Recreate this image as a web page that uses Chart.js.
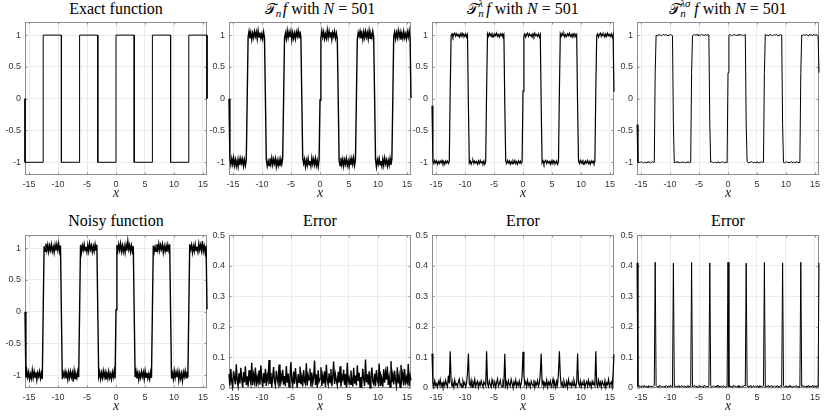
<!DOCTYPE html>
<html><head><meta charset="utf-8">
<script src="https://cdn.jsdelivr.net/npm/chart.js@4.4.1/dist/chart.umd.min.js"></script>
<style>
html,body{margin:0;padding:0;background:#fff;}
body{width:830px;height:417px;position:relative;overflow:hidden;}
canvas{position:absolute;}
.ttl{position:absolute;width:240px;text-align:center;font-family:"Liberation Serif","Times New Roman",serif;font-size:16px;line-height:16px;color:#000;white-space:nowrap;}
.cal{font-family:"DejaVu Sans","DejaVu Serif","Noto Sans",serif;font-size:15px;}
.ss{position:relative;display:inline-block;height:0;}
.ss .sp{position:absolute;left:0;bottom:5px;font-size:11px;line-height:11px;font-style:italic;}
.ss .sb{position:absolute;left:0;top:-6px;font-size:11px;line-height:11px;font-style:italic;}
</style></head><body>

<div class="ttl" style="left:-4px;top:1px">Exact function</div>
<div class="ttl" style="left:200px;top:1px"><span class="cal">𝒯</span><span class="ss" style="width:7px"><span class="sb">n</span></span><i>f</i> with <i>N</i> = 501</div>
<div class="ttl" style="left:403px;top:1px"><span class="cal">𝒯</span><span class="ss" style="width:8px"><span class="sp">λ</span><span class="sb">n</span></span><i>f</i> with <i>N</i> = 501</div>
<div class="ttl" style="left:608px;top:1px"><span class="cal">𝒯</span><span class="ss" style="width:14px"><span class="sp">λσ</span><span class="sb">n</span></span><i>f</i> with <i>N</i> = 501</div>
<div class="ttl" style="left:-4px;top:213px">Noisy function</div>
<div class="ttl" style="left:200px;top:213px">Error</div>
<div class="ttl" style="left:403px;top:213px">Error</div>
<div class="ttl" style="left:608px;top:213px">Error</div>

<canvas id="c0" width="215" height="194" style="left:0px;top:13px"></canvas>
<canvas id="c1" width="215" height="194" style="left:204px;top:13px"></canvas>
<canvas id="c2" width="215" height="194" style="left:407px;top:13px"></canvas>
<canvas id="c3" width="215" height="194" style="left:612px;top:13px"></canvas>
<canvas id="c4" width="215" height="194" style="left:0px;top:226px"></canvas>
<canvas id="c5" width="215" height="194" style="left:204px;top:226px"></canvas>
<canvas id="c6" width="215" height="194" style="left:407px;top:226px"></canvas>
<canvas id="c7" width="215" height="194" style="left:612px;top:226px"></canvas>

<script>
// ---------- axis ticks ----------
const xTickValues = [-15, -10, -5, 0, 5, 10, 15];
const xTickLabels = ['-15', '-10', '-5', '0', '5', '10', '15'];
const yTickValuesFunc = [-1, -0.5, 0, 0.5, 1];
const yTickLabelsFunc = ['-1', '-0.5', '0', '0.5', '1'];
const yTickValuesErr = [0, 0.1, 0.2, 0.3, 0.4, 0.5];
const yTickLabelsErr = ['0', '0.1', '0.2', '0.3', '0.4', '0.5'];

// ---------- sampling grid: 201 points on [-5π, 5π] ----------
const xMin = -15.708, xMax = 15.708, nSamples = 201;

// ---------- exact function (corner points) ----------
const exactX = [-15.708, -15.708, -12.566, -12.566, -9.425, -9.425, -6.283, -6.283, -3.142, -3.142, 0, 0,
                3.142, 3.142, 6.283, 6.283, 9.425, 9.425, 12.566, 12.566, 15.708, 15.708];
const exactY = [0, -1, -1, 1, 1, -1, -1, 1, 1, -1, -1, 1, 1, -1, -1, 1, 1, -1, -1, 1, 1, 0];

// ---------- noisy function (hundredths) ----------
const noisyF = [0,
 -104,-93,-103,-95,-106,-98,-105,-92,-104,-94,-103,-95,-107,-96,-102,-94,-105,-97,-106, 2,
 103,95,107,96,105,94,104,97,106,95,102,93,105,96,106,97,107,95,104, -3,
 -106,-96,-102,-94,-105,-97,-107,-95,-104,-94,-103,-96,-110,-93,-105,-98,-104,-94,-103, 1,
 105,93,104,97,106,96,102,94,105,95,107,98,104,94,103,95,106,96,105, -2,
 -102,-95,-106,-96,-104,-93,-103,-95,-107,-97,-105,-94,-104,-98,-106,-95,-103,-93,-105, 3,
 105,96,106,97,107,95,104,94,103,93,105,96,111,98,105,94,104,95,103, -1,
 -103,-94,-105,-96,-107,-97,-104,-94,-102,-95,-106,-93,-103,-96,-105,-98,-106,-95,-104, 2,
 104,94,102,95,106,97,107,96,105,98,106,93,103,95,104,94,105,97,106, -2,
 -105,-97,-106,-93,-104,-95,-103,-94,-108,-96,-105,-97,-109,-95,-102,-93,-104,-94,-103, 1,
 106,98,105,93,103,95,106,96,102,94,107,97,105,96,111,95,103,93,104, 4];

// ---------- T_n f (hundredths) ----------
const tnF = [0,
 -95,-104,-94,-103,-93,-105,-96,-106,-97,-107,-95,-104,-94,-102,-95,-106,-96,-105,-97, -1,
 97,106,95,104,93,103,96,106,98,105,94,107,97,104,95,102,94,105,96, 2,
 -96,-106,-98,-105,-94,-103,-93,-104,-95,-102,-94,-107,-97,-105,-96,-106,-95,-103,-94, -3,
 95,103,94,107,96,105,97,106,92,104,95,103,94,105,98,107,96,106,97, 1,
 -94,-102,-95,-107,-97,-105,-94,-104,-98,-106,-93,-103,-95,-104,-94,-105,-97,-107,-96, -2,
 96,107,97,105,94,102,95,108,96,106,97,105,93,104,98,106,95,103,94, 2,
 -97,-105,-93,-104,-95,-106,-96,-103,-94,-105,-98,-107,-95,-104,-94,-103,-93,-105,-96, -1,
 94,104,98,106,95,103,93,105,96,106,97,104,94,107,95,102,96,106,97, 3,
 -95,-107,-96,-103,-94,-104,-98,-106,-95,-105,-93,-102,-96,-106,-97,-105,-94,-104,-95, -2,
 98,105,94,104,96,107,97,105,93,103,95,106,96,102,94,105,97,107,95, 1];

// ---------- T_n^λ f (hundredths) ----------
const tnLambdaF = [-11,
 -98,-102,-97,-101,-98,-103,-99,-102,-98,-101,-97,-102,-99,-103,-98,-101,-98,-102,-99, 12,
 99,102,97,101,103,98,102,99,101,97,102,98,103,99,101,98,102,97,101, -11,
 -101,-98,-103,-99,-97,-102,-98,-101,-99,-103,-98,-102,-97,-101,-99,-102,-98,-103,-99, 12,
 102,98,103,99,102,97,101,98,102,99,103,98,101,97,102,99,102,98,101, -11,
 -98,-102,-97,-101,-98,-103,-99,-102,-98,-101,-97,-102,-99,-103,-98,-101,-98,-102,-99, 12,
 99,102,97,101,103,98,102,99,101,97,102,98,103,99,101,98,102,97,101, -11,
 -101,-98,-103,-99,-97,-102,-98,-101,-99,-103,-98,-102,-97,-101,-99,-102,-98,-103,-99, 12,
 102,98,103,99,102,97,101,98,102,99,103,98,101,97,102,99,102,98,101, -11,
 -98,-102,-97,-101,-98,-103,-99,-102,-98,-101,-97,-102,-99,-103,-98,-101,-98,-102,-99, 12,
 99,102,97,101,103,98,102,99,101,97,102,98,103,99,101,98,102,97,101, 11];

// ---------- T_n^λσ f (hundredths) ----------
const tnLambdaSigmaF = [-41,
 -100,-101,-100,-100,-99,-100,-101,-100,-100,-101,-100,-99,-100,-100,-101,-100,-99,-100,-100, 41,
 100,99,100,101,100,100,99,100,101,100,100,101,100,99,100,100,101,100,99, -41,
 -101,-100,-100,-99,-100,-101,-100,-100,-101,-99,-100,-100,-101,-100,-100,-99,-100,-101,-100, 41,
 99,100,101,100,100,101,100,99,100,100,101,100,100,99,101,100,100,101,100, -41,
 -100,-99,-100,-101,-100,-100,-101,-100,-99,-100,-101,-100,-100,-99,-100,-101,-100,-100,-101, 41,
 100,101,100,99,100,100,101,100,100,99,101,100,100,101,100,99,100,100,101, -41,
 -99,-100,-101,-100,-100,-99,-100,-101,-100,-100,-101,-99,-100,-100,-101,-100,-99,-100,-100, 41,
 101,100,100,99,100,101,100,100,99,100,101,100,101,100,99,100,100,101,100, -41,
 -100,-101,-100,-99,-100,-100,-101,-100,-100,-99,-101,-100,-100,-101,-99,-100,-100,-101,-100, 41,
 100,99,101,100,100,101,100,99,100,101,100,100,99,101,100,100,101,100,99, 41];

// ---------- errors (thousandths) ----------
const errTn = [
 45,8,62,21,3,55,34,12,78,25,6,48,15,66,30,2,52,19,71,10,
 38,4,58,27,14,83,9,44,22,67,5,36,18,57,11,74,29,3,49,16,
 63,7,41,24,92,13,50,2,35,69,20,8,56,31,15,77,4,43,26,60,
 11,39,6,72,17,47,3,33,85,23,9,54,14,65,28,1,46,19,70,12,
 37,5,59,22,13,81,8,42,27,64,4,51,16,34,90,10,45,2,58,21,
 30,68,7,40,15,55,3,76,25,11,48,18,62,6,35,87,13,44,24,9,
 53,17,71,4,39,28,60,10,46,2,83,20,33,12,57,26,5,66,14,41,
 8,74,23,50,3,36,16,63,29,7,93,18,45,11,55,1,38,67,21,13,
 47,6,59,25,14,80,9,42,31,4,61,17,52,27,70,10,36,3,88,19,
 44,12,56,24,5,68,15,39,2,75,28,49,8,62,20,34,11,79,6,40,
 26];

const errTnLambda = [112,
 18,5,24,9,14,3,21,11,27,6,16,2,19,8,25,12,4,41,15, 120,
 22,6,17,3,26,10,14,5,20,29,8,13,2,23,11,18,4,16,50, 113,
 14,7,25,3,19,10,28,5,15,22,2,17,9,24,12,4,20,13,8, 120,
 16,5,23,11,3,27,14,8,20,2,18,30,6,13,25,9,4,21,12, 112,
 7,19,3,24,12,6,28,15,2,20,10,26,5,17,9,22,3,14,38, 119,
 45,11,20,4,25,9,16,3,22,13,7,27,2,18,10,24,6,15,48, 113,
 12,21,5,16,8,26,3,19,11,23,4,14,29,7,17,2,22,10,52, 120,
 40,9,18,3,24,13,6,21,2,27,11,16,5,20,8,25,12,4,19, 113,
 15,7,23,4,18,10,28,2,14,21,6,25,9,17,3,22,11,16,8, 120,
 13,5,26,9,19,3,22,14,7,24,2,17,11,28,6,15,20,4,47, 110];

const errTnLambdaSigma = [410,
 6,3,8,5,2,7,4,9,3,6,5,2,8,4,7,3,6,5,9, 412,
 8,4,6,2,9,5,3,7,4,6,2,8,5,3,7,4,9,6,3, 409,
 5,7,3,6,4,8,2,5,9,3,6,4,7,2,5,8,3,6,4, 411,
 3,6,9,4,7,2,5,8,3,6,4,7,2,9,5,3,6,4,8, 410,
 7,2,5,8,4,6,3,9,5,2,7,4,6,3,8,5,2,6,4, 412,
 4,8,3,6,2,9,5,7,3,4,8,2,6,5,3,7,4,9,6, 409,
 6,3,7,4,9,2,5,8,3,6,4,7,5,2,8,3,6,4,7, 411,
 2,7,4,8,5,3,6,9,2,5,7,4,3,8,6,2,5,7,4, 410,
 8,3,5,7,2,6,4,9,3,5,2,7,4,6,8,3,5,2,6, 412,
 5,9,3,6,4,7,2,8,5,3,6,4,9,2,7,5,3,8,4, 410];

// ---------- helpers ----------
const xGrid = Array.from({length: nSamples}, (_, i) => xMin + (xMax - xMin) * i / (nSamples - 1));
const onGrid = (vals, scale) => vals.map((v, i) => ({x: xGrid[i], y: v / scale}));
const corners = exactX.map((x, i) => ({x, y: exactY[i]}));

const FRAME = '#8c8c8c', GRID = '#ebebeb', TXT = '#333';

const framePlugin = {
  id: 'matlabFrame',
  beforeDatasetsDraw(chart) {
    const {ctx, chartArea: a, scales} = chart;
    const L = Math.round(a.left) + 0.5, R = Math.round(a.right) - 0.5;
    const T = Math.round(a.top) + 0.5, B = Math.round(a.bottom) - 0.5;
    ctx.save();
    ctx.strokeStyle = FRAME; ctx.lineWidth = 1;
    ctx.strokeRect(L, T, R - L, B - T);
    ctx.beginPath();
    scales.x.ticks.forEach(t => {
      const p = Math.round(scales.x.getPixelForValue(t.value)) + 0.5;
      ctx.moveTo(p, B); ctx.lineTo(p, B - 2);
      ctx.moveTo(p, T); ctx.lineTo(p, T + 2);
    });
    scales.y.ticks.forEach(t => {
      const p = Math.round(scales.y.getPixelForValue(t.value)) + 0.5;
      ctx.moveTo(L, p); ctx.lineTo(L + 2, p);
      ctx.moveTo(R, p); ctx.lineTo(R - 2, p);
    });
    ctx.stroke();
    ctx.restore();
  }
};

function makeChart(id, data, yVals, yLabels, yMin, yMax, lineW) {
  new Chart(document.getElementById(id), {
    type: 'line',
    data: {datasets: [{data, borderColor: '#000', borderWidth: lineW, pointRadius: 0,
                       tension: 0, fill: false, clip: 3}]},
    options: {
      responsive: false, animation: false, devicePixelRatio: 1,
      layout: {padding: {top: 8, right: 8, bottom: 0, left: 0}},
      plugins: {legend: {display: false}, tooltip: {enabled: false}, title: {display: false}},
      scales: {
        x: {
          type: 'linear', min: xMin, max: xMax,
          afterBuildTicks: s => { s.ticks = xTickValues.map(v => ({value: v})); },
          afterFit: s => { s.height = 32; },
          grid: {color: GRID, drawTicks: false},
          border: {display: false},
          ticks: {padding: 4, maxRotation: 0, autoSkip: false, color: TXT,
                  font: {family: 'Liberation Sans', size: 9},
                  callback: v => xTickLabels[xTickValues.indexOf(v)]},
          title: {display: true, text: 'x', color: '#222',
                  font: {family: 'Liberation Serif', style: 'italic', size: 14},
                  padding: {top: 0, bottom: 5}}
        },
        y: {
          type: 'linear', min: yMin, max: yMax,
          afterBuildTicks: s => { s.ticks = yVals.map(v => ({value: v})); },
          afterFit: s => { s.width = 25; },
          grid: {color: GRID, drawTicks: false},
          border: {display: false},
          ticks: {padding: 4, autoSkip: false, color: TXT,
                  font: {family: 'Liberation Sans', size: 9},
                  callback: v => yLabels[yVals.indexOf(v)]}
        }
      }
    },
    plugins: [framePlugin]
  });
}

makeChart('c0', corners, yTickValuesFunc, yTickLabelsFunc, -1.2, 1.2, 1);
makeChart('c1', onGrid(tnF, 100), yTickValuesFunc, yTickLabelsFunc, -1.2, 1.2, 1.4);
makeChart('c2', onGrid(tnLambdaF, 100), yTickValuesFunc, yTickLabelsFunc, -1.2, 1.2, 1.2);
makeChart('c3', onGrid(tnLambdaSigmaF, 100), yTickValuesFunc, yTickLabelsFunc, -1.2, 1.2, 1);
makeChart('c4', onGrid(noisyF, 100), yTickValuesFunc, yTickLabelsFunc, -1.2, 1.2, 1.4);
makeChart('c5', onGrid(errTn, 1000), yTickValuesErr, yTickLabelsErr, 0, 0.5, 1.4);
makeChart('c6', onGrid(errTnLambda, 1000), yTickValuesErr, yTickLabelsErr, 0, 0.5, 1.2);
makeChart('c7', onGrid(errTnLambdaSigma, 1000), yTickValuesErr, yTickLabelsErr, 0, 0.5, 1);
</script>
</body></html>
